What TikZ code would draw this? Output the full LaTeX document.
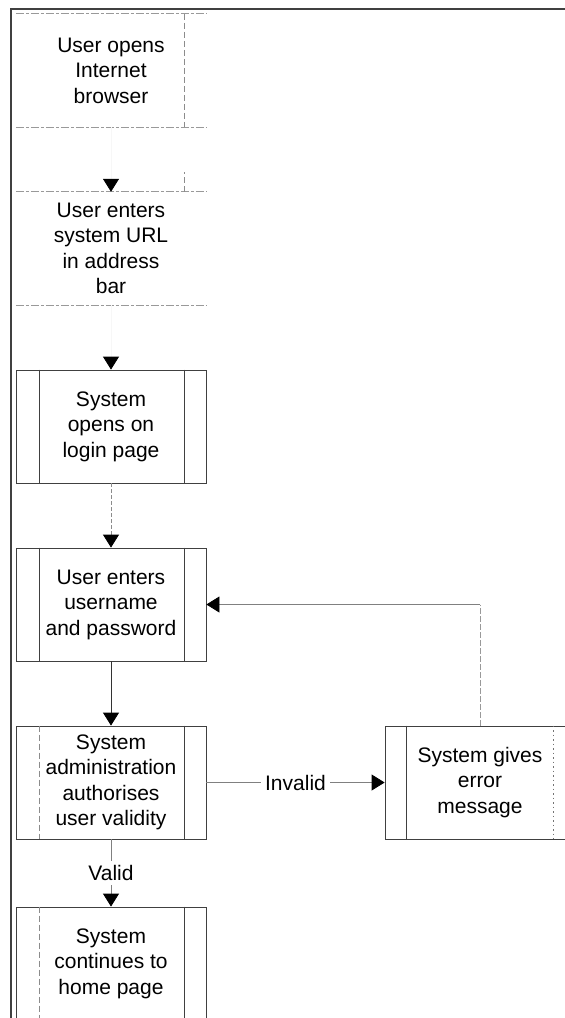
\documentclass[tikz,border=0pt]{standalone}
\usepackage{fontspec}
\setmainfont{Liberation Sans}
\usetikzlibrary{arrows.meta}
\begin{document}
\begin{tikzpicture}[x=1pt,y=-1pt,
  txt/.style={font=\fontsize{21}{25.5}\selectfont, align=center, text=black},
  box/.style={txt, minimum width=190pt, minimum height=113pt, inner sep=0pt},
  frame/.style={draw=black!75, line width=0.8pt},
  faint/.style={draw=black!40, line width=0.8pt, dash pattern=on 8pt off 2pt on 3pt off 2pt},
  inner/.style={draw=black!75, line width=0.8pt},
  innerd/.style={draw=black!45, line width=0.8pt, dash pattern=on 6pt off 3pt},
  innerdot/.style={draw=black!55, line width=0.8pt, dash pattern=on 1.5pt off 3pt},
  conn/.style={draw=black!50, line width=0.8pt, -{Triangle[length=13pt,width=16pt,black]}},
  lbl/.style={txt, fill=white, inner sep=4pt}]
\useasboundingbox (0,0) rectangle (565,1018);
\clip (0,0) rectangle (565,1018);
% outer frame
\draw[line width=2pt, black!75] (11,1018) -- (11,9) -- (565,9);
% nodes
\node[box] (b1) at (111,70.5) {User opens\\Internet\\browser};
\node[box] (b2) at (111,248.5) {User enters\\system URL\\in address\\bar};
\node[box, frame] (b3) at (111,426.5) {System\\opens on\\login page};
\node[box, frame] (b4) at (111,604.5) {User enters\\username\\and password};
\node[box, frame] (b5) at (111,782.5) {System\\administration\\authorises\\user validity};
\node[box, frame] (b6) at (111,963.5) {System\\continues to\\home page};
\node[box, frame] (err) at (480,782.5) {System gives\\error\\message};
% faded boxes
\draw[faint] (b1.north west) -- (b1.north east);
\draw[faint] (b1.south west) -- (b1.south east);
\draw[innerd] ([xshift=-22pt]b1.north east) -- ([xshift=-22pt]b1.south east);
\draw[faint] (b2.north west) -- (b2.north east);
\draw[faint] (b2.south west) -- (b2.south east);
\draw[innerd] ([xshift=-22pt]b2.north east) -- ([xshift=-22pt,yshift=20pt]b2.north east);
% inner side lines
\draw[inner] ([xshift=24pt]b3.north west) -- ([xshift=24pt]b3.south west);
\draw[inner] ([xshift=-22pt]b3.north east) -- ([xshift=-22pt]b3.south east);
\draw[inner] ([xshift=24pt]b4.north west) -- ([xshift=24pt]b4.south west);
\draw[inner] ([xshift=-22pt]b4.north east) -- ([xshift=-22pt]b4.south east);
\draw[innerd] ([xshift=24pt]b5.north west) -- ([xshift=24pt]b5.south west);
\draw[inner] ([xshift=-22pt]b5.north east) -- ([xshift=-22pt]b5.south east);
\draw[innerd] ([xshift=24pt]b6.north west) -- ([xshift=24pt]b6.south west);
\draw[inner] ([xshift=-22pt]b6.north east) -- ([xshift=-22pt]b6.south east);
\draw[inner] ([xshift=22pt]err.north west) -- ([xshift=22pt]err.south west);
\draw[innerdot] ([xshift=-22pt]err.north east) -- ([xshift=-22pt]err.south east);
% connectors
\draw[conn, draw=black!3] (b1.south) -- (b2.north);
\draw[conn, draw=black!3] (b2.south) -- (b3.north);
\draw[conn, draw=black!45, dash pattern=on 4pt off 2pt] (b3.south) -- (b4.north);
\draw[conn, draw=black!80] (b4.south) -- (b5.north);
\draw[conn] (b5.south) -- node[lbl] {Valid} (b6.north);
\draw[conn] (b5.east) -- node[lbl] {Invalid} (err.west);
\coordinate (k) at (err.north |- b4.east);
\draw[draw=black!40, line width=0.8pt, dash pattern=on 6pt off 2pt] (err.north) -- (k);
\draw[conn] (k) -- (b4.east);
\end{tikzpicture}
\end{document}
